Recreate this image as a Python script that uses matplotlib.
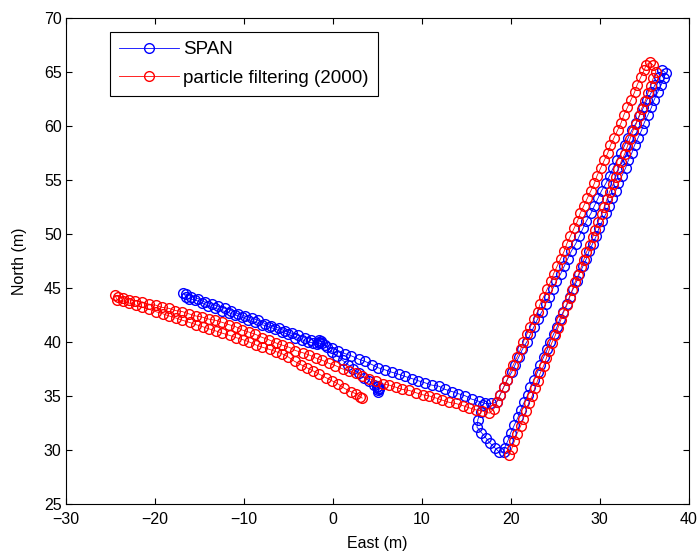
import numpy as np
import matplotlib
matplotlib.use("Agg")
import matplotlib.pyplot as plt

plt.rcParams['font.family'] = ['Liberation Sans', 'DejaVu Sans']

# ── SPAN reference trajectory (blue) ─────────────────────────────────────────
span_start_x = [16.9, 16.6, 16.3, 16.2, 16.7, 17.2, 17.7, 18.2, 18.7, 19.2]
span_start_y = [34.2, 33.5, 32.8, 32.1, 31.6, 31.1, 30.6, 30.2, 29.8, 29.8]

span_up_x = [19.3, 19.7, 20.0, 20.4, 20.8, 21.1, 21.5, 21.9, 22.2, 22.6,
             23.0, 23.3, 23.7, 24.1, 24.4, 24.8, 25.2, 25.5, 25.9, 26.3,
             26.6, 27.0, 27.4, 27.7, 28.1, 28.5, 28.8, 29.2, 29.6, 29.9,
             30.3, 30.7, 31.0, 31.4, 31.8, 32.1, 32.5, 32.9, 33.2, 33.6,
             33.9, 34.3, 34.7, 35.0, 35.4, 35.8, 36.1, 36.5, 36.9, 37.2,
             37.4, 37.0]
span_up_y = [30.2, 30.9, 31.6, 32.3, 33.0, 33.7, 34.4, 35.1, 35.8, 36.5,
             37.2, 37.9, 38.6, 39.3, 40.0, 40.7, 41.4, 42.1, 42.8, 43.5,
             44.2, 44.9, 45.6, 46.3, 47.0, 47.7, 48.4, 49.1, 49.8, 50.5,
             51.2, 51.9, 52.6, 53.3, 54.0, 54.7, 55.4, 56.1, 56.8, 57.5,
             58.2, 58.9, 59.6, 60.3, 61.0, 61.7, 62.4, 63.1, 63.8, 64.4,
             64.9, 65.2]

span_down_x = [36.6, 36.2, 35.8, 35.3, 34.9, 34.5, 34.1, 33.6, 33.2, 32.8,
               32.4, 31.9, 31.5, 31.1, 30.7, 30.2, 29.8, 29.4, 29.0, 28.5,
               28.1, 27.7, 27.3, 26.8, 26.4, 26.0, 25.6, 25.1, 24.7, 24.3,
               23.9, 23.5, 23.0, 22.6, 22.2, 21.8, 21.3, 20.9, 20.5, 20.1,
               19.6, 19.2, 18.8, 18.4, 17.8]
span_down_y = [64.5, 63.8, 63.1, 62.4, 61.7, 61.0, 60.3, 59.6, 58.9, 58.2,
               57.5, 56.8, 56.1, 55.4, 54.7, 54.0, 53.3, 52.6, 51.9, 51.2,
               50.5, 49.8, 49.1, 48.4, 47.7, 47.0, 46.3, 45.6, 44.9, 44.2,
               43.5, 42.8, 42.1, 41.4, 40.7, 40.0, 39.3, 38.6, 37.9, 37.2,
               36.5, 35.8, 35.1, 34.4, 34.3]

span_west_x = [17.1, 16.4, 15.6, 14.9, 14.1, 13.4, 12.6, 11.9, 11.1, 10.4,
               9.6, 8.9, 8.1, 7.4, 6.6, 5.9, 5.1, 4.4, 3.6, 2.9,
               2.1, 1.4, 0.6, -0.1, -0.9, -1.6, -2.4, -3.1, -3.9, -4.6,
               -5.4, -6.1, -6.9, -7.6, -8.4, -9.1, -9.9, -10.6, -11.4, -12.1,
               -12.9, -13.6, -14.4, -15.1, -15.9, -16.5, -16.8]
span_west_y = [34.3, 34.5, 34.7, 35.0, 35.2, 35.4, 35.6, 35.9, 36.0, 36.2,
               36.4, 36.6, 36.8, 37.0, 37.2, 37.4, 37.6, 37.9, 38.2, 38.4,
               38.7, 38.9, 39.2, 39.4, 39.7, 39.9, 40.2, 40.4, 40.6, 40.8,
               41.0, 41.3, 41.5, 41.7, 42.0, 42.2, 42.4, 42.6, 42.9, 43.1,
               43.3, 43.5, 43.7, 44.0, 44.2, 44.4, 44.5]

span_east_x = [-16.5, -16.2, -15.5, -14.7, -14.0, -13.2, -12.5, -11.7, -11.0, -10.2,
               -9.5, -8.7, -8.0, -7.2, -6.5, -5.7, -5.0, -4.2, -3.5, -2.8,
               -2.2, -1.8, -1.5, -1.3, -1.6, -1.2]
span_east_y = [44.2, 44.0, 43.9, 43.6, 43.3, 43.1, 42.9, 42.7, 42.5, 42.3,
               42.0, 41.8, 41.6, 41.4, 41.2, 40.9, 40.7, 40.4, 40.2, 40.0,
               39.9, 39.8, 40.0, 40.1, 40.2, 39.9]

span_end_x = [-0.7, -0.1, 0.5, 1.1, 1.7, 2.3, 2.9, 3.5, 4.1, 4.6,
              5.0, 5.1, 5.2, 5.1, 5.2, 5.1]
span_end_y = [39.5, 39.1, 38.7, 38.3, 37.9, 37.5, 37.1, 36.7, 36.4, 36.0,
              35.8, 35.9, 35.6, 35.4, 35.7, 35.5]

# ── Particle filter estimate, 2000 particles (red) ───────────────────────────
pf_up_x = [19.8, 20.1, 20.4, 20.7, 21.1, 21.4, 21.7, 22.0, 22.4, 22.7,
           23.0, 23.3, 23.7, 24.0, 24.3, 24.6, 25.0, 25.3, 25.6, 25.9,
           26.3, 26.6, 26.9, 27.2, 27.6, 27.9, 28.2, 28.5, 28.9, 29.2,
           29.5, 29.8, 30.2, 30.5, 30.8, 31.1, 31.5, 31.8, 32.1, 32.4,
           32.8, 33.1, 33.4, 33.7, 34.1, 34.4, 34.7, 35.1, 35.4, 35.7,
           36.0, 36.3, 36.0, 35.6, 35.2]
pf_up_y = [29.5, 30.1, 30.8, 31.5, 32.2, 32.9, 33.6, 34.3, 35.0, 35.7,
           36.4, 37.1, 37.8, 38.5, 39.2, 39.9, 40.6, 41.3, 42.0, 42.7,
           43.4, 44.1, 44.8, 45.5, 46.2, 46.9, 47.6, 48.3, 49.0, 49.7,
           50.4, 51.1, 51.8, 52.5, 53.2, 53.9, 54.6, 55.3, 56.0, 56.7,
           57.4, 58.1, 58.8, 59.5, 60.2, 60.9, 61.6, 62.3, 63.0, 63.7,
           64.4, 65.0, 65.6, 65.9, 65.6]

pf_down_x = [35.0, 34.6, 34.2, 33.9, 33.5, 33.1, 32.7, 32.4, 32.0, 31.6,
             31.2, 30.9, 30.5, 30.1, 29.7, 29.4, 29.0, 28.6, 28.2, 27.8,
             27.5, 27.1, 26.7, 26.3, 26.0, 25.6, 25.2, 24.8, 24.5, 24.1,
             23.7, 23.3, 23.0, 22.6, 22.2, 21.8, 21.4, 21.1, 20.7, 20.3,
             19.9, 19.6, 19.2, 18.8, 18.4, 18.1]
pf_down_y = [65.2, 64.5, 63.8, 63.1, 62.4, 61.7, 61.0, 60.3, 59.6, 58.9,
             58.2, 57.5, 56.8, 56.1, 55.4, 54.7, 54.0, 53.3, 52.6, 51.9,
             51.2, 50.5, 49.8, 49.1, 48.4, 47.7, 47.0, 46.3, 45.6, 44.9,
             44.2, 43.5, 42.8, 42.1, 41.4, 40.7, 40.0, 39.3, 38.6, 37.9,
             37.2, 36.5, 35.8, 35.1, 34.4, 33.8]

pf_west_x = [17.6, 16.8, 16.1, 15.3, 14.6, 13.8, 13.1, 12.3, 11.6, 10.8,
             10.1, 9.3, 8.6, 7.8, 7.1, 6.3, 5.6, 4.8, 4.1, 3.3,
             2.6, 1.8, 1.1, 0.3, -0.4, -1.2, -1.9, -2.7, -3.4, -4.2,
             -4.9, -5.7, -6.4, -7.2, -7.9, -8.7, -9.4, -10.2, -10.9, -11.7,
             -12.4, -13.2, -13.9, -14.7, -15.4, -16.2, -16.9, -17.7, -18.4, -19.2,
             -19.9, -20.7, -21.4, -22.2, -22.9, -23.6, -24.1, -24.5, -24.2]
pf_west_y = [33.4, 33.6, 33.7, 33.9, 34.1, 34.3, 34.4, 34.6, 34.8, 35.0,
             35.1, 35.3, 35.5, 35.6, 35.8, 36.0, 36.1, 36.4, 36.6, 36.8,
             37.1, 37.3, 37.5, 37.8, 38.0, 38.3, 38.5, 38.8, 39.0, 39.2,
             39.5, 39.7, 39.9, 40.2, 40.4, 40.7, 40.9, 41.1, 41.4, 41.6,
             41.8, 42.0, 42.1, 42.3, 42.4, 42.6, 42.8, 42.9, 43.1, 43.2,
             43.4, 43.5, 43.7, 43.8, 43.9, 44.1, 44.2, 44.3, 43.9]

pf_east_x = [-23.6, -22.9, -22.1, -21.4, -20.6, -19.9, -19.1, -18.4, -17.6, -16.9,
             -16.1, -15.4, -14.6, -13.9, -13.1, -12.4, -11.6, -10.9, -10.1, -9.4,
             -8.6, -7.9, -7.1, -6.4, -5.7, -5.0, -4.3, -3.6, -2.9, -2.2,
             -1.5, -0.8, -0.1, 0.6, 1.3, 2.0, 2.6, 3.1, 3.3]
pf_east_y = [43.8, 43.6, 43.4, 43.2, 43.0, 42.8, 42.6, 42.4, 42.2, 42.0,
             41.8, 41.6, 41.4, 41.2, 41.0, 40.8, 40.6, 40.4, 40.2, 40.0,
             39.7, 39.5, 39.3, 39.1, 38.9, 38.6, 38.2, 37.9, 37.6, 37.3,
             37.0, 36.7, 36.4, 36.1, 35.7, 35.4, 35.2, 34.9, 34.8]

span_x = span_start_x + span_up_x + span_down_x + span_west_x + span_east_x + span_end_x
span_y = span_start_y + span_up_y + span_down_y + span_west_y + span_east_y + span_end_y
pf_x = pf_up_x + pf_down_x + pf_west_x + pf_east_x
pf_y = pf_up_y + pf_down_y + pf_west_y + pf_east_y

fig = plt.figure(figsize=(7.0, 5.58), dpi=100)
ax = fig.add_axes([0.094, 0.097, 0.89, 0.871])

ax.plot(span_x, span_y, '-o', color='blue', lw=0.6, ms=7,
        mfc='none', mew=1.0, label='SPAN')
ax.plot(pf_x, pf_y, '-o', color='red', lw=0.6, ms=7,
        mfc='none', mew=1.0, label='particle filtering (2000)')

ax.set_xlim(-30, 40)
ax.set_ylim(25, 70)
ax.set_xticks(np.arange(-30, 41, 10))
ax.set_yticks(np.arange(25, 71, 5))
ax.tick_params(direction='in', top=True, right=True, length=4,
               labelsize=11.5, width=0.8)
ax.tick_params(axis='x', pad=6)
ax.tick_params(axis='y', pad=3)
for spine in ax.spines.values():
    spine.set_linewidth(0.8)
ax.set_xlabel('East (m)', fontsize=11.5, labelpad=6)
ax.set_ylabel('North (m)', fontsize=11.5, labelpad=12)

leg = ax.legend(loc='upper left', bbox_to_anchor=(0.071, 0.971),
                borderaxespad=0, fontsize=13.5, handlelength=3.2,
                fancybox=False, framealpha=1, edgecolor='black',
                borderpad=0.5, labelspacing=0.6, handletextpad=0.2)
leg.get_frame().set_linewidth(0.8)

fig.savefig('out.png', dpi=100)
